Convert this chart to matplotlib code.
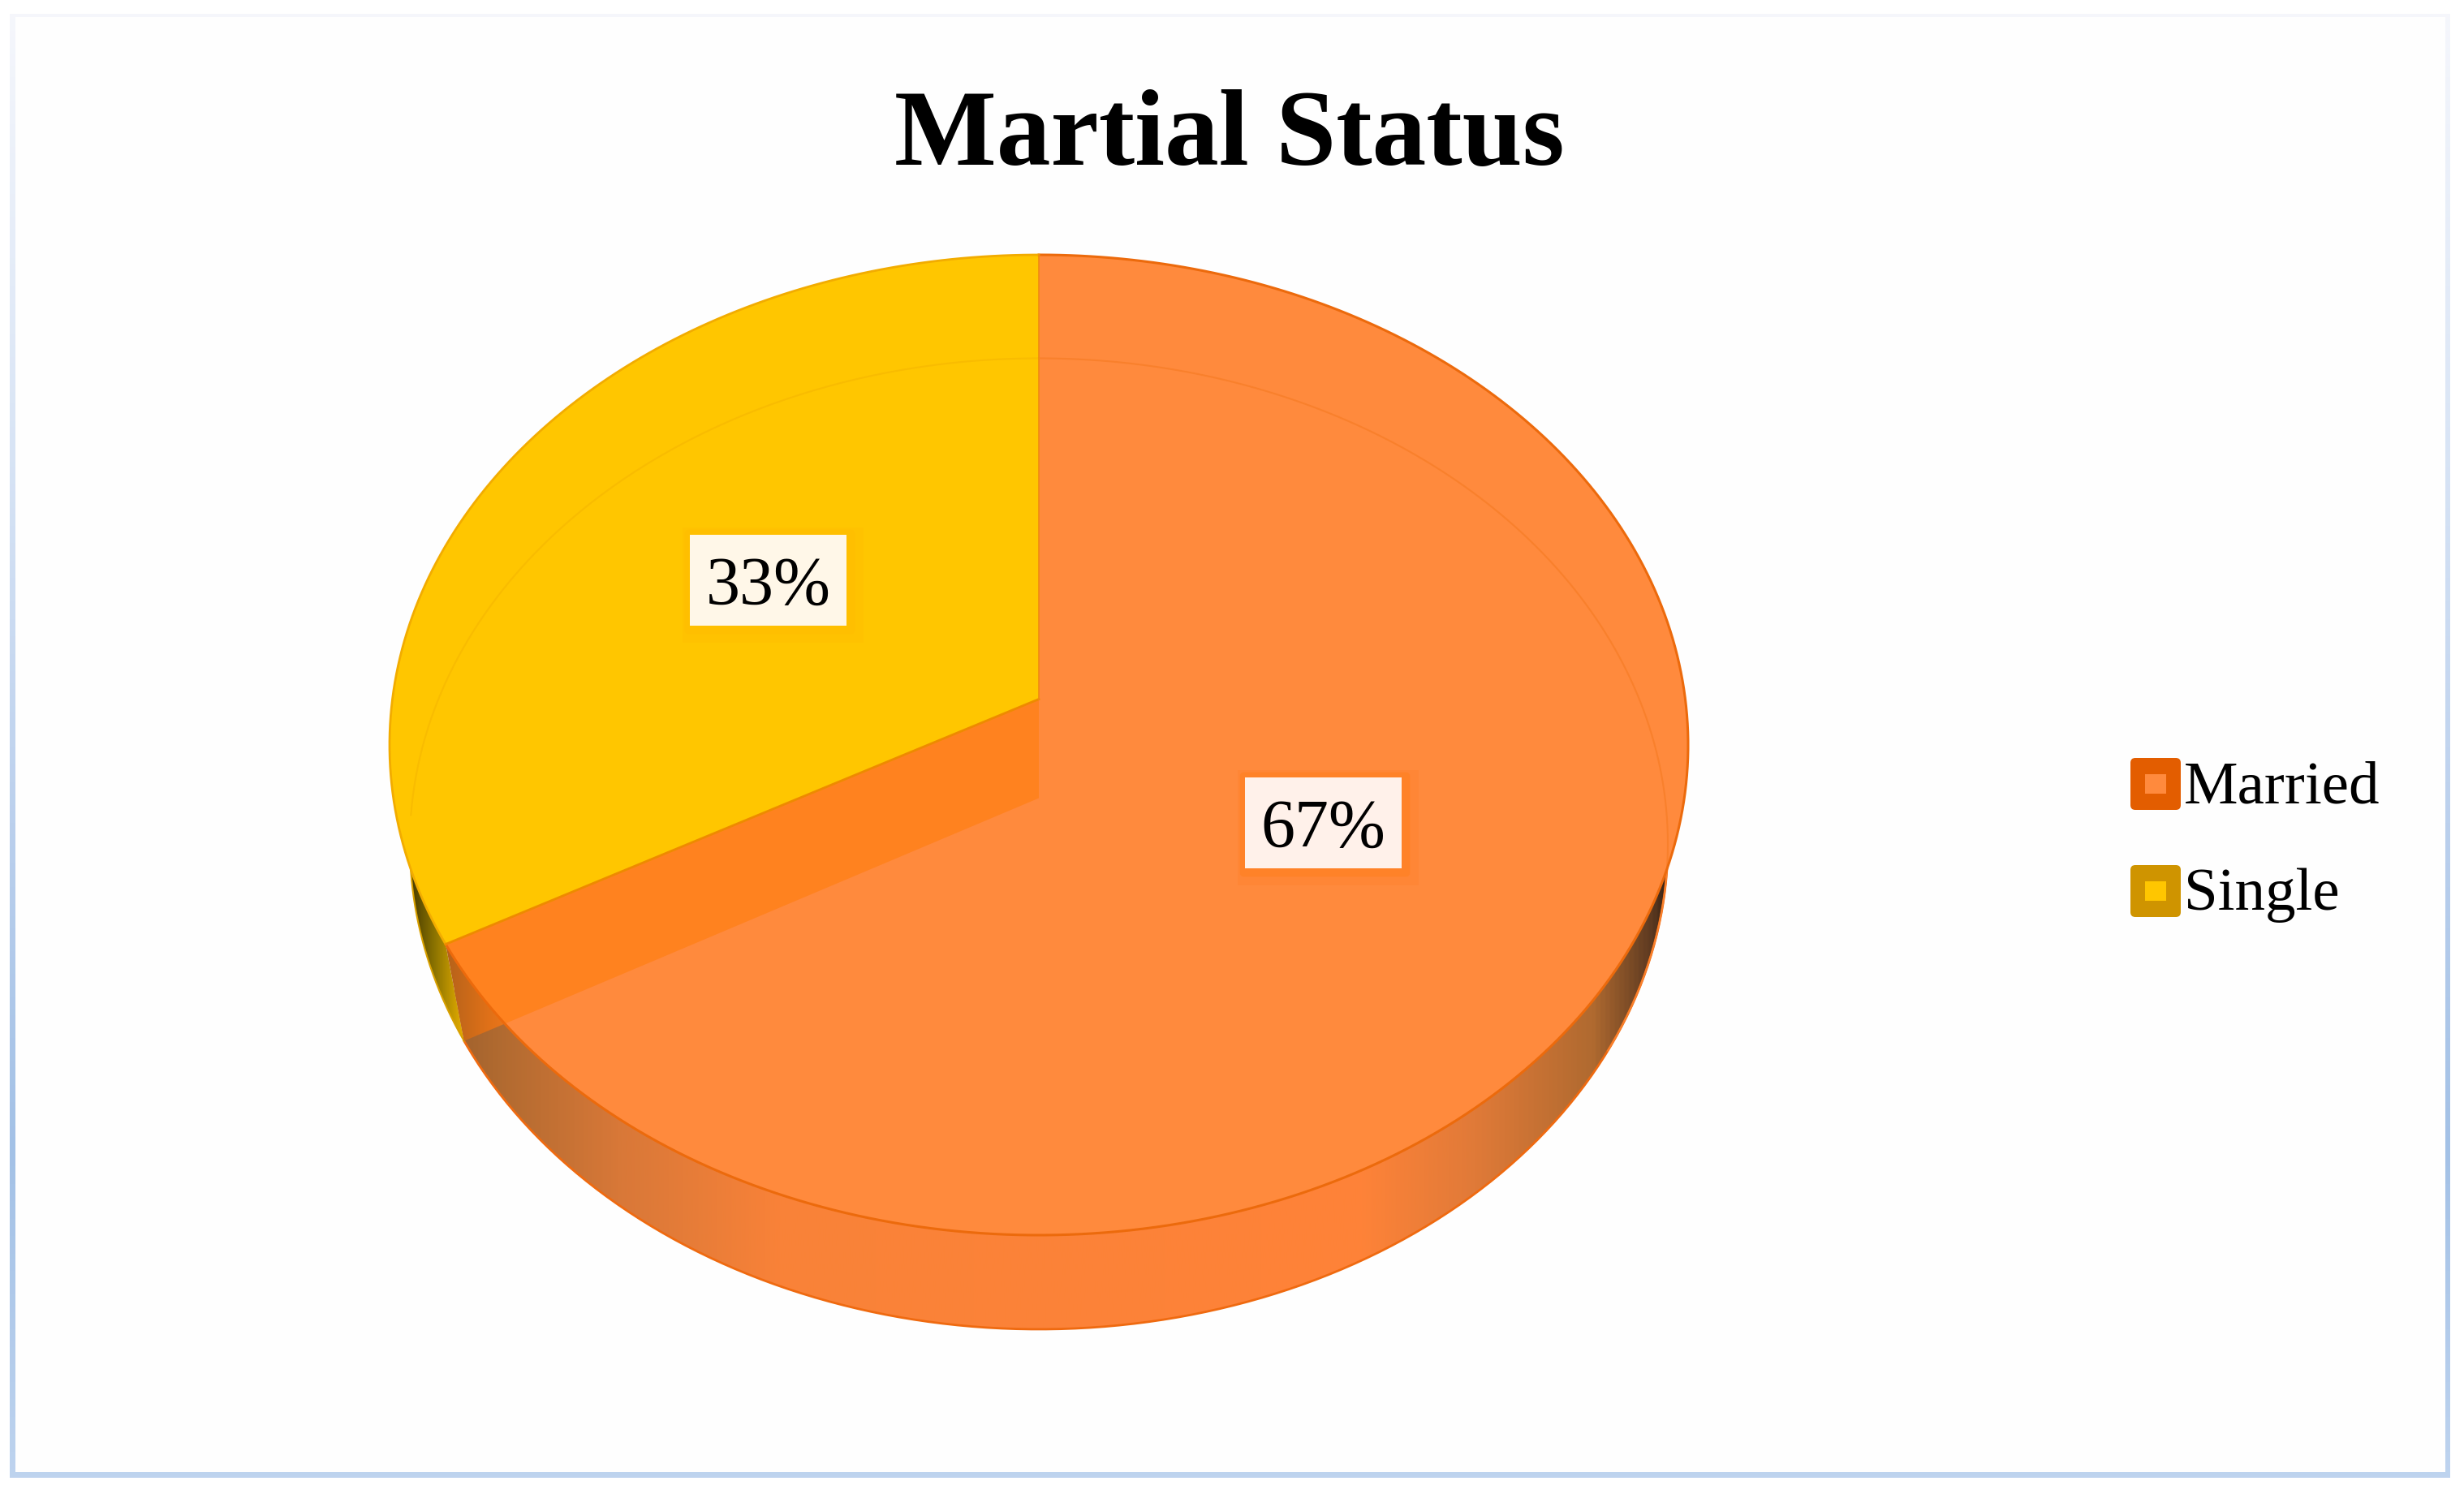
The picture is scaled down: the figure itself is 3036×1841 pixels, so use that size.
import numpy as np
import matplotlib
matplotlib.use("Agg")
import matplotlib.pyplot as plt
from matplotlib.colors import LinearSegmentedColormap
from matplotlib.patches import Polygon, Rectangle, FancyBboxPatch

plt.rcParams['font.family'] = ['Liberation Serif', 'DejaVu Serif']

# --- data ---
title = "Martial Status"
categories = ["Married", "Single"]
values = [67, 33]
top_colors = ["#FF8A3D", "#FFC600"]
edge_colors = ["#EC6A0C", "#F2AC00"]
swatch_colors = ["#E35D00", "#CF9400"]

W, H = 3036, 1841

fig = plt.figure(figsize=(W / 100, H / 100), dpi=100, facecolor="white")
ax = fig.add_axes([0, 0, 1, 1])


class Disc:
    # perspective circle: apex is the pie centre, widths in pixels
    def __init__(self, cx, cy, rx, up, down):
        self.cx, self.cy = cx, cy
        self.c = (down - up) / (down + up)
        self.a = up * (1 + self.c)
        self.d = rx * np.sqrt(1 - self.c ** 2)

    def rim(self, deg):
        # deg is clockwise from 12 o'clock
        t = np.radians(np.atleast_1d(deg))
        u, v = np.sin(t), np.cos(t)
        w = 1 + self.c * v
        return np.column_stack([self.cx + self.d * u / w, self.cy - self.a * v / w])


top = Disc(1280, 861.5, 800, 547.5, 660.5)
low = Disc(1280, 983.5, 775, 542, 654.5)

split = values[0] / sum(values) * 360


def sweep(a, b, n=240):
    return np.linspace(a, b, n)


def gradient(stops, x0, x1, clip, z, vertical=False):
    cmap = LinearSegmentedColormap.from_list("g", stops)
    g = np.linspace(0, 1, 512)
    g = g[:, None] if vertical else g[None, :]
    im = ax.imshow(g, cmap=cmap, aspect="auto", zorder=z, interpolation="bilinear", origin="upper",
                   extent=[x0, x1, H, 0])
    ax.add_patch(clip)
    clip.set_visible(False)
    im.set_clip_path(clip)
    return im


# outer frame
gradient([(0, "#F6F7FC"), (0.3, "#D8E4F5"), (0.55, "#BBD0ED"), (0.77, "#A3C1E6"), (1, "#BFD4EF")], 12, 3019,
         Rectangle((12, 17), 3007, 1804, transform=ax.transData), 1, vertical=True)
ax.add_patch(Rectangle((19, 21), 2994, 1793, fc="#FEFEFE", ec="none", zorder=2))

# side wall
married_wall = np.vstack([top.rim(sweep(95, split)), low.rim(sweep(split, 95))])
single_wall = np.vstack([top.rim(sweep(split, 268)), low.rim(sweep(268, split))])
gradient([(0, "#A0622E"), (0.033, "#B06A30"), (0.133, "#D87838"), (0.266, "#F98238"), (0.74, "#FF8338"),
          (0.837, "#E07A38"), (0.933, "#B06A30"), (0.983, "#5A3820"), (1, "#20140C")], 560, 2066,
         Polygon(married_wall, transform=ax.transData), 3)
gradient([(0, "#2E2600"), (0.5, "#8A7200"), (1, "#F0B400")], 495, 575,
         Polygon(single_wall, transform=ax.transData), 3)
ax.plot(*low.rim(sweep(95, split)).T, color="#EF6A10", lw=2, zorder=4)
ax.plot(*low.rim(sweep(split, 268)).T, color="#D8A000", lw=1.5, zorder=4)

# cut face of the married slice
cut = np.vstack([top.rim(split), low.rim(split), [[low.cx, low.cy]], [[top.cx, top.cy]]])
gradient([(0, "#B5621A"), (0.55, "#DE7018"), (1, "#F57A1C")], 550, 640,
         Polygon(cut, transform=ax.transData), 5)

# top surface
married_top = np.vstack([[[top.cx, top.cy]], top.rim(sweep(0, split))])
single_top = np.vstack([[[top.cx, top.cy]], top.rim(sweep(split, 360))])
ax.add_patch(Polygon(married_top, fc=top_colors[0], ec="none", zorder=6))
cut_clip = Polygon(married_top, transform=ax.transData, visible=False)
ax.add_patch(cut_clip)
inner = Polygon(cut, fc="#FF821F", ec="none", zorder=7)
ax.add_patch(inner)
inner.set_clip_path(cut_clip)
ax.add_patch(Polygon(single_top, fc=top_colors[1], ec="none", zorder=8))

# far rim showing through
ax.plot(*low.rim(sweep(0, 120)).T, color="#F9802C", lw=1.5, zorder=9)
ax.plot(*low.rim(sweep(268, 360)).T, color="#F9BC00", lw=1.5, zorder=9)

ax.plot(*top.rim(sweep(0, split)).T, color=edge_colors[0], lw=2.2, zorder=10)
ax.plot(*top.rim(sweep(split, 360)).T, color=edge_colors[1], lw=2, zorder=10)
spoke = np.vstack([[[top.cx, top.cy]], top.rim(split)])
ax.plot(*spoke.T, color="#EE8A00", lw=2, zorder=10)
ax.plot([top.cx, top.cx], [top.cy, top.rim(0)[0, 1]], color="#F08A10", lw=1.2, zorder=10)

# data labels
label_boxes = [(1534, 958, 193, 112, "#FFF1EA", "#FF8228", "#FF8636"),
               (850, 659, 193, 112, "#FFF7E8", "#FFBF00", "#FFC200")]
for val, (x, y, w, h, fc, ring, glow) in zip(values, label_boxes):
    ax.add_patch(Rectangle((x - 9, y - 9), w + 30, h + 30, fc=glow, ec="none", zorder=11))
    ax.add_patch(FancyBboxPatch((x - 5, y - 5), w + 14, h + 14, boxstyle="round,pad=0,rounding_size=4",
                                fc=ring, ec=ring, lw=2, zorder=11))
    ax.add_patch(Rectangle((x, y), w, h, fc=fc, ec="none", zorder=12))
    ax.text(x + w / 2, y + h / 2 + 30, f"{val}%", fontsize=60.5, ha="center", va="baseline", color="black", zorder=13)

# legend
swatch_y = [934, 1066]
label_x = [2691, 2691]
for i, cat in enumerate(categories):
    ax.add_patch(FancyBboxPatch((2625, swatch_y[i]), 62, 64, boxstyle="round,pad=0,rounding_size=6",
                                fc=swatch_colors[i], ec="none", zorder=5))
    ax.add_patch(Rectangle((2643, swatch_y[i] + 20), 26, 24, fc=top_colors[i], ec="none", zorder=6))
    ax.text(label_x[i], swatch_y[i] + 55, cat, fontsize=54, ha="left", va="baseline", color="black", zorder=6)

ax.text(1515, 203, title, fontsize=96, fontweight="bold", ha="center", va="baseline", color="black", zorder=6)

ax.set_xlim(0, W)
ax.set_ylim(H, 0)
ax.axis("off")
fig.savefig("out.png", dpi=100, facecolor="white")
